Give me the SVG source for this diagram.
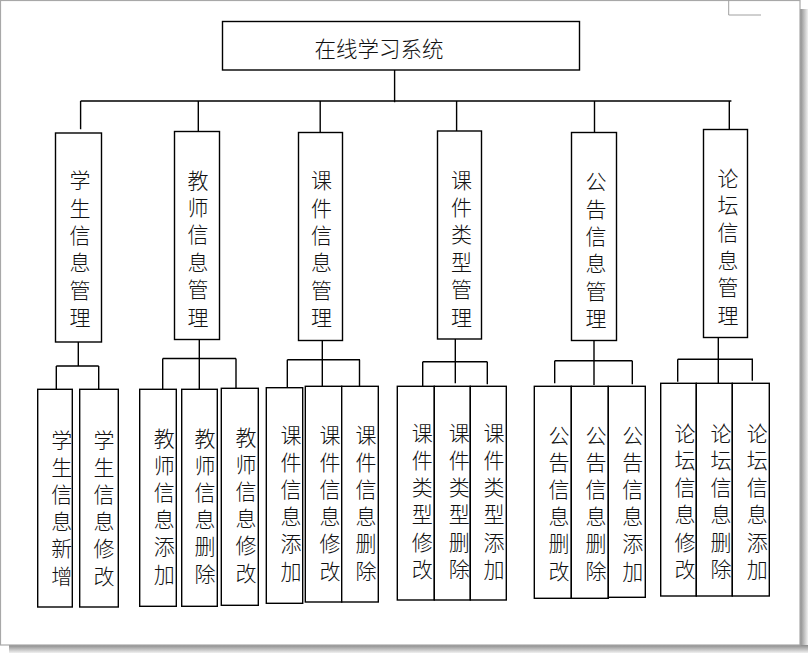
<svg xmlns="http://www.w3.org/2000/svg" width="810" height="656" viewBox="0 0 810 656">
<style>
.box{fill:#fff;stroke:#000;stroke-width:1.4}
.ln{fill:none;stroke:#000;stroke-width:1.4}
.t{font-family:"Noto Sans CJK SC","Noto Sans",sans-serif;font-size:21px;font-weight:300;fill:#111;text-anchor:middle}
</style>
<defs>
<linearGradient id="shR" x1="0" y1="0" x2="1" y2="0">
<stop offset="0" stop-color="#8a8a8a"/><stop offset="1" stop-color="#f0f0f0"/>
</linearGradient>
<linearGradient id="shB" x1="0" y1="0" x2="0" y2="1">
<stop offset="0" stop-color="#8a8a8a"/><stop offset="1" stop-color="#f0f0f0"/>
</linearGradient>
</defs>
<rect x="0" y="0" width="810" height="656" fill="#fff"/>
<g id="page">
<rect x="800" y="9" width="8" height="644" fill="url(#shR)"/>
<rect x="9" y="645" width="799" height="8" fill="url(#shB)"/>
<rect x="0.5" y="0.5" width="799.5" height="644.5" fill="#fff" stroke="#a8a8a8" stroke-width="1.2"/>
<path d="M728.7 0V15H761" fill="none" stroke="#a0a0a0" stroke-width="1"/>
</g>
<g id="connectors">
<path class="ln" d="M394.6 70V102.3M80.6 101H731.4M80.6 101V129.3M198.3 101V131.5M320.2 101V132.5M456.6 101V131M594.5 101V132.5M729.3 101V129.5"/>
<path class="ln" d="M78.3 342V366M56.3 366H98.7M56.3 366V389.3M98.7 366V389.3"/>
<path class="ln" d="M199.3 339.5V358.5M162.7 358.5H236M162.7 358.5V389.3M199.3 358.5V389.3M236 358.5V388.3"/>
<path class="ln" d="M322.3 340.5V359.7M287.3 359.7H360M287.3 359.7V387.7M322.3 359.7V386.3M359.5 359.7V386.3"/>
<path class="ln" d="M455.3 338.5V361.7M422.7 361.7H487.3M422.7 361.7V386.3M455.3 361.7V383.3M487.3 361.7V384.3"/>
<path class="ln" d="M594 340.5V360.7M554.7 360.7H632.3M554.7 360.7V383.3M594 360.7V385M632.3 360.7V384.3"/>
<path class="ln" d="M718.3 337.5V359.3M677.7 359.3H753M677.7 359.3V381.7M718.3 359.3V383.3M752.3 359.3V380.7"/>
</g>
<g id="root">
<rect class="box" x="222.5" y="21.5" width="357" height="48.5"/>
<text class="t" x="379" y="57" style="font-size:21.5px">在线学习系统</text>
</g>
<g id="n1"><rect class="box" x="55.5" y="133" width="46" height="209"/>
<text class="t"><tspan x="80" y="188.2">学</tspan><tspan x="80" dy="27.4">生</tspan><tspan x="80" dy="27.4">信</tspan><tspan x="80" dy="27.4">息</tspan><tspan x="80" dy="27.4">管</tspan><tspan x="80" dy="27.4">理</tspan></text></g>
<g id="n2"><rect class="box" x="174.5" y="131.5" width="45" height="208"/>
<text class="t"><tspan x="198" y="187.5">教</tspan><tspan x="198" dy="27.4">师</tspan><tspan x="198" dy="27.4">信</tspan><tspan x="198" dy="27.4">息</tspan><tspan x="198" dy="27.4">管</tspan><tspan x="198" dy="27.4">理</tspan></text></g>
<g id="n3"><rect class="box" x="298.5" y="132.5" width="44" height="208"/>
<text class="t"><tspan x="321.5" y="188.2">课</tspan><tspan x="321.5" dy="27.4">件</tspan><tspan x="321.5" dy="27.4">信</tspan><tspan x="321.5" dy="27.4">息</tspan><tspan x="321.5" dy="27.4">管</tspan><tspan x="321.5" dy="27.4">理</tspan></text></g>
<g id="n4"><rect class="box" x="437.5" y="131" width="44" height="208"/>
<text class="t"><tspan x="461.5" y="187.5">课</tspan><tspan x="461.5" dy="27.4">件</tspan><tspan x="461.5" dy="27.4">类</tspan><tspan x="461.5" dy="27.4">型</tspan><tspan x="461.5" dy="27.4">管</tspan><tspan x="461.5" dy="27.4">理</tspan></text></g>
<g id="n5"><rect class="box" x="571.5" y="132.5" width="45" height="208"/>
<text class="t"><tspan x="596" y="189.2">公</tspan><tspan x="596" dy="27.4">告</tspan><tspan x="596" dy="27.4">信</tspan><tspan x="596" dy="27.4">息</tspan><tspan x="596" dy="27.4">管</tspan><tspan x="596" dy="27.4">理</tspan></text></g>
<g id="n6"><rect class="box" x="703.5" y="129.5" width="44" height="208"/>
<text class="t"><tspan x="728" y="185.5">论</tspan><tspan x="728" dy="27.4">坛</tspan><tspan x="728" dy="27.4">信</tspan><tspan x="728" dy="27.4">息</tspan><tspan x="728" dy="27.4">管</tspan><tspan x="728" dy="27.4">理</tspan></text></g>
<g id="n1a"><rect class="box" x="37.7" y="389.3" width="34.6" height="217.7"/>
<text class="t"><tspan x="61.7" y="447.5">学</tspan><tspan x="61.7" dy="27.2">生</tspan><tspan x="61.7" dy="27.2">信</tspan><tspan x="61.7" dy="27.2">息</tspan><tspan x="61.7" dy="27.2">新</tspan><tspan x="61.7" dy="27.2">增</tspan></text></g>
<g id="n1b"><rect class="box" x="79.7" y="389.3" width="38.6" height="217.7"/>
<text class="t"><tspan x="104" y="447.5">学</tspan><tspan x="104" dy="27.2">生</tspan><tspan x="104" dy="27.2">信</tspan><tspan x="104" dy="27.2">息</tspan><tspan x="104" dy="27.2">修</tspan><tspan x="104" dy="27.2">改</tspan></text></g>
<g id="n2a"><rect class="box" x="139.7" y="389.3" width="36.6" height="217"/>
<text class="t"><tspan x="164.3" y="445.5">教</tspan><tspan x="164.3" dy="27.2">师</tspan><tspan x="164.3" dy="27.2">信</tspan><tspan x="164.3" dy="27.2">息</tspan><tspan x="164.3" dy="27.2">添</tspan><tspan x="164.3" dy="27.2">加</tspan></text></g>
<g id="n2b"><rect class="box" x="181.7" y="389.3" width="35.6" height="217"/>
<text class="t"><tspan x="205" y="445.5">教</tspan><tspan x="205" dy="27.2">师</tspan><tspan x="205" dy="27.2">信</tspan><tspan x="205" dy="27.2">息</tspan><tspan x="205" dy="27.2">删</tspan><tspan x="205" dy="27.2">除</tspan></text></g>
<g id="n2c"><rect class="box" x="221.3" y="388.3" width="37" height="217"/>
<text class="t"><tspan x="246" y="444.5">教</tspan><tspan x="246" dy="27.2">师</tspan><tspan x="246" dy="27.2">信</tspan><tspan x="246" dy="27.2">息</tspan><tspan x="246" dy="27.2">修</tspan><tspan x="246" dy="27.2">改</tspan></text></g>
<g id="n3a"><rect class="box" x="266.3" y="387.7" width="36.4" height="215.6"/>
<text class="t"><tspan x="291" y="442.5">课</tspan><tspan x="291" dy="27.2">件</tspan><tspan x="291" dy="27.2">信</tspan><tspan x="291" dy="27.2">息</tspan><tspan x="291" dy="27.2">添</tspan><tspan x="291" dy="27.2">加</tspan></text></g>
<g id="n3b"><rect class="box" x="305.3" y="386.3" width="36.4" height="215.7"/>
<text class="t"><tspan x="330" y="442.5">课</tspan><tspan x="330" dy="27.2">件</tspan><tspan x="330" dy="27.2">信</tspan><tspan x="330" dy="27.2">息</tspan><tspan x="330" dy="27.2">修</tspan><tspan x="330" dy="27.2">改</tspan></text></g>
<g id="n3c"><rect class="box" x="341.7" y="386.3" width="36.6" height="215.7"/>
<text class="t"><tspan x="366" y="442.5">课</tspan><tspan x="366" dy="27.2">件</tspan><tspan x="366" dy="27.2">信</tspan><tspan x="366" dy="27.2">息</tspan><tspan x="366" dy="27.2">删</tspan><tspan x="366" dy="27.2">除</tspan></text></g>
<g id="n4a"><rect class="box" x="397.3" y="386.3" width="37" height="213.7"/>
<text class="t"><tspan x="422.3" y="440.8">课</tspan><tspan x="422.3" dy="27.2">件</tspan><tspan x="422.3" dy="27.2">类</tspan><tspan x="422.3" dy="27.2">型</tspan><tspan x="422.3" dy="27.2">修</tspan><tspan x="422.3" dy="27.2">改</tspan></text></g>
<g id="n4b"><rect class="box" x="434.3" y="386.3" width="36" height="213.7"/>
<text class="t"><tspan x="459.3" y="440.8">课</tspan><tspan x="459.3" dy="27.2">件</tspan><tspan x="459.3" dy="27.2">类</tspan><tspan x="459.3" dy="27.2">型</tspan><tspan x="459.3" dy="27.2">删</tspan><tspan x="459.3" dy="27.2">除</tspan></text></g>
<g id="n4c"><rect class="box" x="470.3" y="386.3" width="36" height="213.7"/>
<text class="t"><tspan x="494" y="440.8">课</tspan><tspan x="494" dy="27.2">件</tspan><tspan x="494" dy="27.2">类</tspan><tspan x="494" dy="27.2">型</tspan><tspan x="494" dy="27.2">添</tspan><tspan x="494" dy="27.2">加</tspan></text></g>
<g id="n5a"><rect class="box" x="534.3" y="386.3" width="37" height="212"/>
<text class="t"><tspan x="559" y="442.5">公</tspan><tspan x="559" dy="27.2">告</tspan><tspan x="559" dy="27.2">信</tspan><tspan x="559" dy="27.2">息</tspan><tspan x="559" dy="27.2">删</tspan><tspan x="559" dy="27.2">改</tspan></text></g>
<g id="n5b"><rect class="box" x="571.3" y="386.3" width="37" height="212"/>
<text class="t"><tspan x="596" y="442.5">公</tspan><tspan x="596" dy="27.2">告</tspan><tspan x="596" dy="27.2">信</tspan><tspan x="596" dy="27.2">息</tspan><tspan x="596" dy="27.2">删</tspan><tspan x="596" dy="27.2">除</tspan></text></g>
<g id="n5c"><rect class="box" x="608.3" y="386.3" width="37" height="211"/>
<text class="t"><tspan x="632.7" y="442.5">公</tspan><tspan x="632.7" dy="27.2">告</tspan><tspan x="632.7" dy="27.2">信</tspan><tspan x="632.7" dy="27.2">息</tspan><tspan x="632.7" dy="27.2">添</tspan><tspan x="632.7" dy="27.2">加</tspan></text></g>
<g id="n6a"><rect class="box" x="660.7" y="383.3" width="35.6" height="212.7"/>
<text class="t"><tspan x="685" y="440.8">论</tspan><tspan x="685" dy="27.2">坛</tspan><tspan x="685" dy="27.2">信</tspan><tspan x="685" dy="27.2">息</tspan><tspan x="685" dy="27.2">修</tspan><tspan x="685" dy="27.2">改</tspan></text></g>
<g id="n6b"><rect class="box" x="696.3" y="383.3" width="36" height="212.7"/>
<text class="t"><tspan x="721" y="440.8">论</tspan><tspan x="721" dy="27.2">坛</tspan><tspan x="721" dy="27.2">信</tspan><tspan x="721" dy="27.2">息</tspan><tspan x="721" dy="27.2">删</tspan><tspan x="721" dy="27.2">除</tspan></text></g>
<g id="n6c"><rect class="box" x="732.3" y="383.3" width="37" height="212.7"/>
<text class="t"><tspan x="757.3" y="440.8">论</tspan><tspan x="757.3" dy="27.2">坛</tspan><tspan x="757.3" dy="27.2">信</tspan><tspan x="757.3" dy="27.2">息</tspan><tspan x="757.3" dy="27.2">添</tspan><tspan x="757.3" dy="27.2">加</tspan></text></g>
</svg>
